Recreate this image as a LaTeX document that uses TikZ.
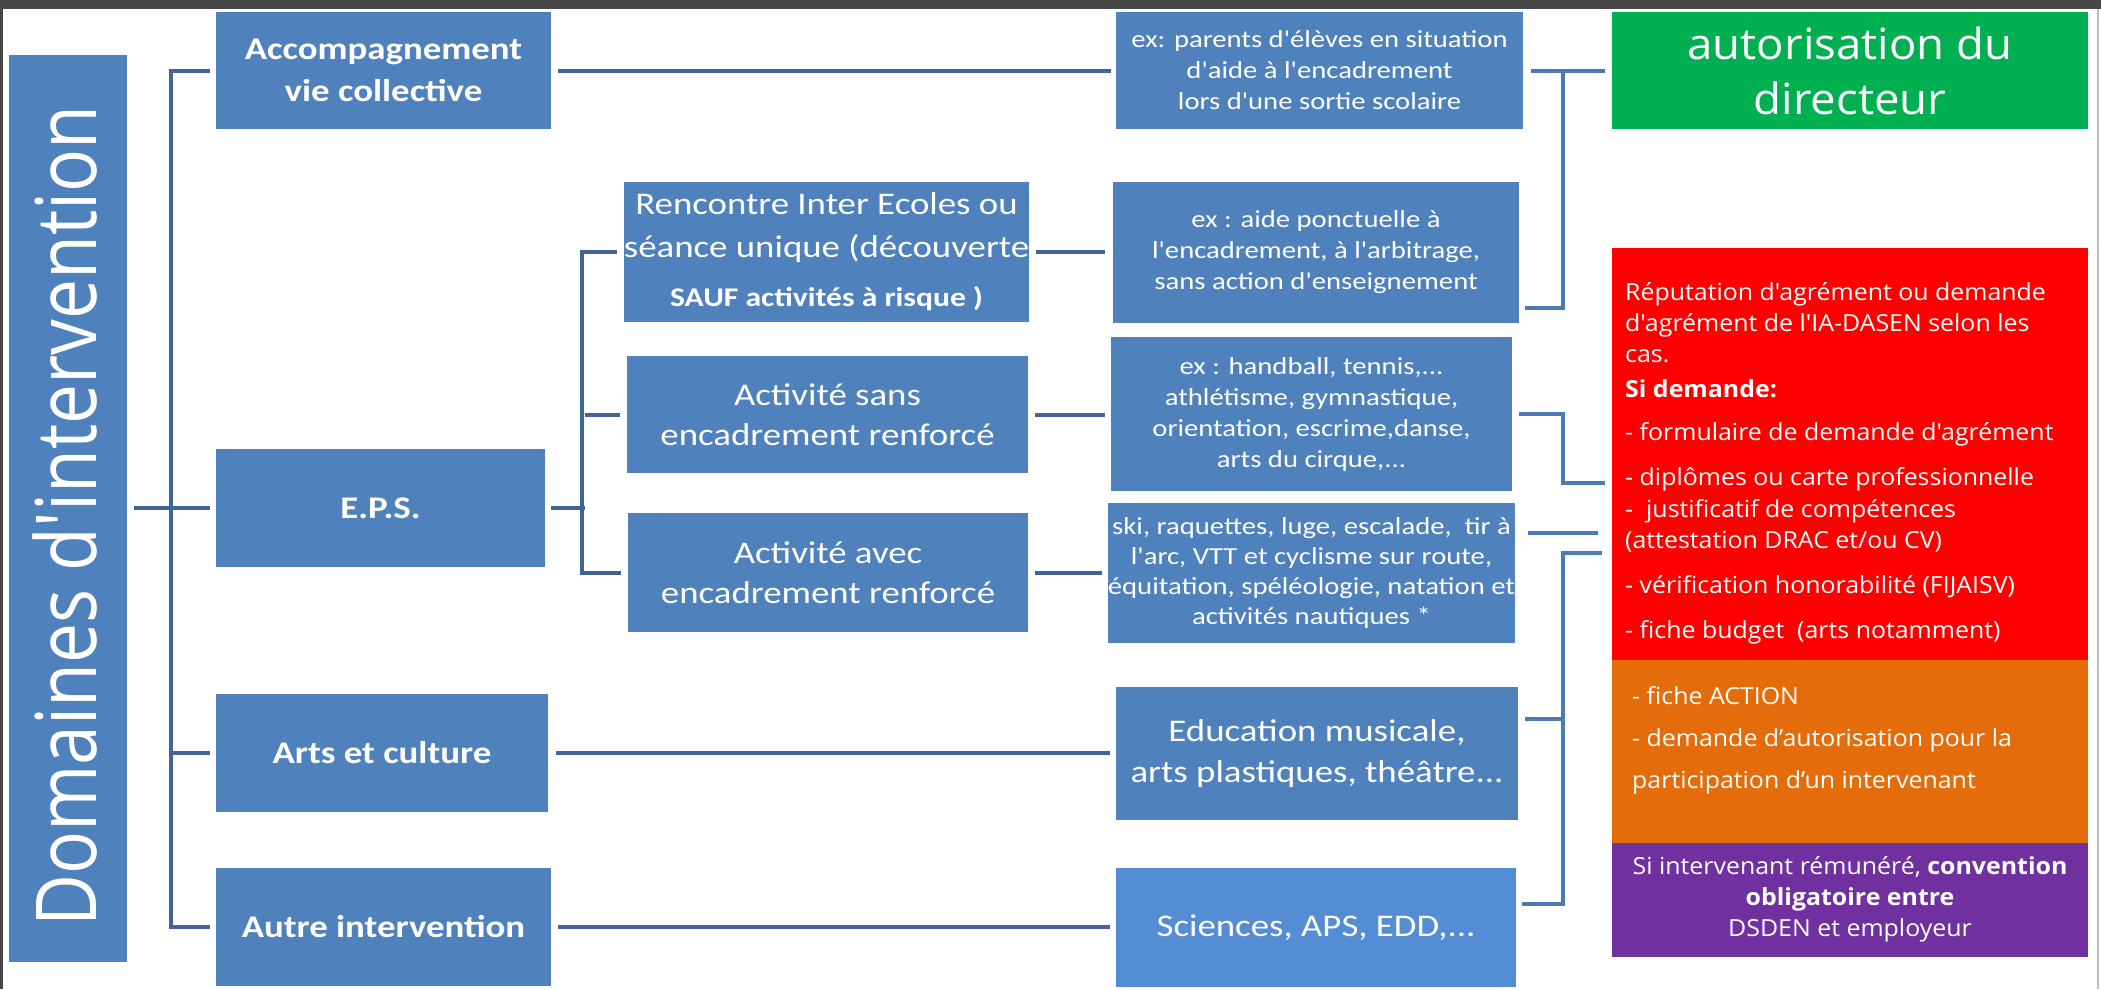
\documentclass[tikz,border=0pt]{standalone}
\usepackage{fontspec}
\newfontfamily\boxfont[FakeStretch=1.17]{Carlito}
\newfontfamily\sidefont[FakeStretch=1.06]{Open Sans}
\newfontfamily\titlefont[FakeStretch=0.85]{Open Sans}
\usetikzlibrary{calc}
\definecolor{blueF}{RGB}{79,129,189}
\definecolor{blueS}{RGB}{84,141,212}
\definecolor{lineD}{RGB}{64,100,152}
\definecolor{lineR}{RGB}{77,122,182}
\definecolor{greenF}{RGB}{0,176,80}
\definecolor{redF}{RGB}{255,0,0}
\definecolor{orangeF}{RGB}{228,108,10}
\definecolor{purpleF}{RGB}{112,48,160}
\definecolor{band}{RGB}{72,72,72}
\definecolor{edge}{RGB}{190,190,190}
\begin{document}
\begin{tikzpicture}[x=1pt,y=-1pt,
  sz/.style 2 args={minimum width=#1pt, minimum height=#2pt},
  bx/.style={fill=blueF, inner sep=0pt, outer sep=0pt, text=white, align=center,
    font=\boxfont\fontsize{31.5}{42}\selectfont},
  bxb/.style={bx, font=\boxfont\bfseries\fontsize{31.5}{42}\selectfont},
  bxs/.style={bx, font=\boxfont\fontsize{24.5}{31}\selectfont},
  side/.style={inner sep=0pt, outer sep=0pt},
  sidetxt/.style={inner sep=0pt, text=white, font=\sidefont\fontsize{23.5}{30}\selectfont},
  conn/.style={draw=lineD, line width=4pt},
  connR/.style={draw=lineR, line width=4pt}]
\useasboundingbox (0,0) rectangle (2101,989);
\fill[white] (0,0) rectangle (2101,989);
\fill[band] (0,0) rectangle (2101,9);
\fill[band] (0,0) rectangle (2.5,989);
\fill[edge] (2096.5,9) rectangle (2099,989);

% title
\node[bx, sz={118}{907}] (title) at (68,508.5) {};
\node[rotate=90, anchor=base, text=white, inner sep=0pt,
      font=\titlefont\fontsize{84}{90}\selectfont] (titletxt) at (96,516) {Domaines d'intervention};

% column 1
\node[bxb, sz={335}{117}] (acc) at (383.5,70.5) {Accompagnement\\vie collective};
\node[bxb, sz={329}{118}] (eps) at (380.5,508) {E.P.S.};
\node[bxb, sz={332}{118}] (arts) at (382,753) {Arts et culture};
\node[bxb, sz={335}{118}] (aut) at (383.5,927) {Autre intervention};

% column 2
\node[bx, sz={399}{140}, font=\boxfont\fontsize{31.5}{43}\selectfont] (ren) at (826.5,252)
  {Rencontre Inter Ecoles ou\\séance unique (découverte\\[6pt]{\bfseries\fontsize{27}{30}\selectfont SAUF activités à risque )}};
\node[bx, sz={401}{117}, font=\boxfont\fontsize{31.5}{40}\selectfont] (sans) at (827.5,414.5) {Activité sans\\encadrement renforcé};
\node[bx, sz={400}{119}, font=\boxfont\fontsize{31.5}{40}\selectfont] (avec) at (828,572.5) {Activité avec\\encadrement renforcé};

% column 3
\node[bxs, sz={407}{117}] (par) at (1319.5,70.5) {ex: parents d'élèves en situation\\d'aide à l'encadrement\\lors d'une sortie scolaire};
\node[bxs, sz={406}{141}] (aide) at (1316,252.5) {ex : aide ponctuelle à\\l'encadrement, à l'arbitrage,\\sans action d'enseignement};
\node[bxs, sz={401}{154}] (hand) at (1311.5,414) {ex : handball, tennis,...\\athlétisme, gymnastique,\\orientation, escrime,danse,\\arts du cirque,...};
\node[bxs, sz={401}{140}, font=\boxfont\fontsize{24.5}{30}\selectfont] (ski) at (1311.5,573) {ski, raquettes, luge, escalade,\ \ tir à\\l'arc, VTT et cyclisme sur route,\\équitation, spéléologie, natation et\\activités nautiques *};
\node[bx, sz={402}{133}, font=\boxfont\fontsize{31.5}{41}\selectfont] (edu) at (1317,753.5) {Education musicale,\\arts plastiques, théâtre...};
\node[bx, fill=blueS, sz={400}{119}] (sci) at (1316,927.5) {Sciences, APS, EDD,...};

% right column
\node[side, fill=greenF, sz={476}{117}, text=white, align=center,
      font=\sidefont\fontsize{43}{55}\selectfont] (green) at (1850,70.5) {autorisation du\\directeur};
\node[side, fill=redF, sz={476}{412}] (red) at (1850,454) {};
\node[side, fill=orangeF, sz={476}{183}] (orange) at (1850,751.5) {};
\node[side, fill=purpleF, sz={476}{114}] (purple) at (1850,900) {};

\node[sidetxt, anchor=base west] (r1) at (1625,300) {Réputation d'agrément ou demande};
\node[sidetxt, anchor=base west] (r2) at (1625,331) {d'agrément de l'IA-DASEN selon les};
\node[sidetxt, anchor=base west] (r3) at (1625,362) {cas.};
\node[sidetxt, anchor=base west] (r4) at (1625,397) {\bfseries Si demande:};
\node[sidetxt, anchor=base west] (r5) at (1625,440) {- formulaire de demande d'agrément};
\node[sidetxt, anchor=base west] (r6) at (1625,485) {- diplômes ou carte professionnelle};
\node[sidetxt, anchor=base west] (r7) at (1625,517) {-\ \ justificatif de compétences};
\node[sidetxt, anchor=base west] (r8) at (1625,548) {(attestation DRAC et/ou CV)};
\node[sidetxt, anchor=base west] (r9) at (1625,593) {- vérification honorabilité (FIJAISV)};
\node[sidetxt, anchor=base west] (r10) at (1625,638) {- fiche budget\ \ (arts notamment)};

\node[sidetxt, anchor=base west] (o1) at (1632,704) {- fiche ACTION};
\node[sidetxt, anchor=base west] (o2) at (1632,746) {- demande d’autorisation pour la};
\node[sidetxt, anchor=base west] (o3) at (1632,788) {participation d’un intervenant};

\node[sidetxt, anchor=base] (p1) at (1850,874) {Si intervenant rémunéré, \textbf{convention}};
\node[sidetxt, anchor=base] (p2) at (1850,905) {\textbf{obligatoire entre}};
\node[sidetxt, anchor=base] (p3) at (1850,936) {DSDEN et employeur};

% left bus
\draw[conn] ([xshift=-6pt]acc.west) -- ++(-39,0) |- ([xshift=-6pt]aut.west);
\draw[conn] ([xshift=7pt]title.east |- eps.west) -- ([xshift=-6pt]eps.west);
\draw[conn] ([xshift=-6pt]arts.west) -- ++(-39,0);

% straight links
\draw[conn] ([xshift=7pt]acc.east) -- ([xshift=-5pt]par.west |- acc.east);
\draw[conn] ([xshift=8pt]arts.east) -- ([xshift=-6pt]edu.west |- arts.east);
\draw[conn] ([xshift=7pt]aut.east) -- ([xshift=-6pt]sci.west |- aut.east);

% EPS bracket
\draw[conn] ([xshift=-7pt]ren.west) -- ++(-35,0) |- ([xshift=-7pt]avec.west);
\draw[conn] ([xshift=-7pt]sans.west) -- ++(-35,0);
\draw[conn] ([xshift=6pt]eps.east) -- ++(34,0);
\draw[conn] ([xshift=7pt]ren.east) -- ([xshift=-8pt]aide.west |- ren.east);
\draw[conn] ([xshift=7pt]sans.east) -- ([xshift=-6pt]hand.west |- sans.east);
\draw[conn] ([xshift=7pt]avec.east) -- ([xshift=-6pt]ski.west |- avec.east);

% right brackets
\draw[connR] ([xshift=8pt]par.east) -- ([xshift=-7pt]green.west |- par.east);
\draw[connR] ($(par.east)+(40,0)$) |- ($(aide.south east)+(6,-15)$);
\draw[connR] ([xshift=7pt]hand.east) -- ++(44,0) |- ($(red.west)+(-7,29)$);
\draw[connR] ($(ski.east)+(13,-40)$) -- ($(red.west)+(-14,79)$);
\draw[connR] ($(red.south west)+(-10,-107)$) -| ($(sci.east)+(47,-24)$) -- ($(sci.east)+(6,-24)$);
\draw[connR] ($(edu.east)+(7,-35)$) -- ++(38,0);
\end{tikzpicture}
\end{document}
